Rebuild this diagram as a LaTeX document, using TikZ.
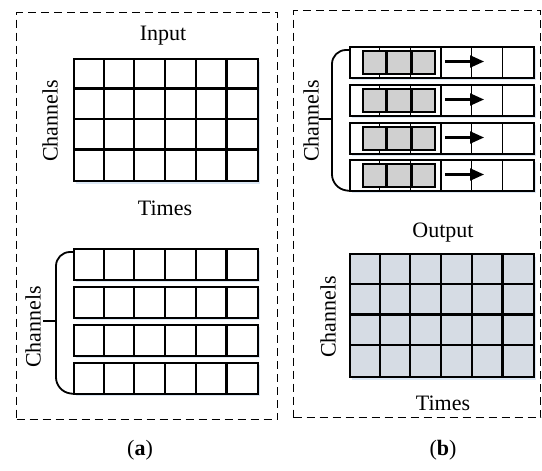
\documentclass[tikz,border=0pt]{standalone}
\usepackage{fontspec}
\setmainfont{Liberation Serif}
\usetikzlibrary{arrows.meta,calc}
\definecolor{outfill}{HTML}{D6DCE4}
\definecolor{boxgray}{HTML}{D0D0D0}
\definecolor{shade}{HTML}{DCE8F5}
\tikzset{
  panel/.style={draw, line width=1.4pt, dash pattern=on 8pt off 5pt},
  gline/.style={line width=2.3pt},
  gridbox/.style={draw, gline, minimum width=184pt, minimum height=122pt, inner sep=0pt, anchor=north west},
  rowbox/.style={draw, gline, minimum width=184pt, minimum height=30.5pt, inner sep=0pt, anchor=north west},
  grayblk/.style={draw, fill=boxgray, line width=1.6pt, minimum width=23pt, minimum height=23pt, inner sep=0pt, anchor=north west},
  shadowbox/.style={fill=shade, draw=none, minimum width=184pt, inner sep=0pt, anchor=north west},
  lbl/.style={font=\fontsize{22}{26}\selectfont, inner sep=0pt},
  rlbl/.style={lbl, rotate=90},
  bracepath/.style={line width=1.8pt, rounded corners=14pt},
  flow/.style={line width=2.3pt, -{Triangle[length=14pt,width=12pt]}}
}
\begin{document}
\begin{tikzpicture}[x=1pt,y=-1pt]
\useasboundingbox (0,0) rectangle (542,471);
% panels
\node[panel, minimum width=261pt, minimum height=407pt, anchor=north west, inner sep=0pt] (pa) at (16,12) {};
\node[panel, minimum width=247pt, minimum height=407pt, anchor=north west, inner sep=0pt] (pb) at (293,10) {};
% ---------- panel (a), input grid
\node[shadowbox, minimum height=122pt] at (76,62) {};
\node[gridbox, fill=white] (ingrid) at (73,58) {};
\foreach \i in {1,...,5} \draw[gline] ($(ingrid.north west)+(\i*30.67,0)$) -- ($(ingrid.south west)+(\i*30.67,0)$);
\foreach \j in {1,2,3} \draw[gline] ($(ingrid.north west)+(0,\j*30.5)$) -- ($(ingrid.north east)+(0,\j*30.5)$);
\node[lbl] (inlbl) at (163,36) {Input};
\node[lbl] (intimes) at (165,208) {Times};
\node[rlbl] (inch) at (50,121) {Channels};
% ---------- panel (a), split rows
\foreach \n/\y in {1/248,2/286,3/324,4/362} {
  \node[shadowbox, minimum height=30.5pt] at (76,\y+3) {};
  \node[rowbox, fill=white] (ar\n) at (73,\y) {};
  \foreach \i in {1,...,5} \draw[gline] ($(ar\n.north west)+(\i*30.67,0)$) -- ($(ar\n.south west)+(\i*30.67,0)$);
}
\coordinate (abt) at ($(ar1.north west)+(0,4)$);
\coordinate (abb) at ($(ar4.south west)+(0,-1)$);
\coordinate (abm) at (56,321);
\coordinate (abtick) at (43,321);
\draw[bracepath] (abt) -- (56,252) -- (56,391.5) -- (abb);
\draw[gline] (abtick) -- (abm);
\node[rlbl] (ach) at (33,327) {Channels};
\node[lbl] (alab) at (140,450) {(\textbf{a})};
% ---------- panel (b), sliding rows
\foreach \n/\y in {1/46,2/84,3/122,4/159} {
  \node[shadowbox, minimum height=30.5pt] at (352,\y+3) {};
  \node[rowbox, fill=white] (br\n) at (349,\y) {};
  \foreach \i in {1,...,5} \draw[line width=1.3pt] ($(br\n.north west)+(\i*30.67,0)$) -- ($(br\n.south west)+(\i*30.67,0)$);
  \node[grayblk] (g\n a) at (362,\y+4) {};
  \node[grayblk, anchor=west] (g\n b) at (g\n a.east) {};
  \node[grayblk, anchor=west] (g\n c) at (g\n b.east) {};
  \coordinate (as\n) at (445,\y+15.5);
  \coordinate (ae\n) at (484,\y+15.5);
  \draw[flow] (as\n) -- (ae\n);
}
\coordinate (bbt) at ($(br1.north west)+(0,4)$);
\coordinate (bbb) at ($(br4.south west)+(0,-1)$);
\coordinate (bbm) at (332,119);
\coordinate (bbtick) at (319,119);
\draw[bracepath] (bbt) -- (332,50) -- (332,188.5) -- (bbb);
\draw[gline] (bbtick) -- (bbm);
\node[rlbl] (bch) at (311,121) {Channels};
% ---------- panel (b), output grid
\node[shadowbox, minimum height=123pt] at (352,257) {};
\node[gridbox, fill=outfill, minimum height=123pt] (outgrid) at (349,253) {};
\foreach \i in {1,...,5} \draw[gline] ($(outgrid.north west)+(\i*30.67,0)$) -- ($(outgrid.south west)+(\i*30.67,0)$);
\foreach \j in {1,2,3} \draw[gline] ($(outgrid.north west)+(0,\j*30.75)$) -- ($(outgrid.north east)+(0,\j*30.75)$);
\node[lbl] (outlbl) at (443,233) {Output};
\node[lbl] (outtimes) at (443,403) {Times};
\node[rlbl] (outch) at (328,317) {Channels};
\node[lbl] (blab) at (443,450) {(\textbf{b})};
\end{tikzpicture}
\end{document}
